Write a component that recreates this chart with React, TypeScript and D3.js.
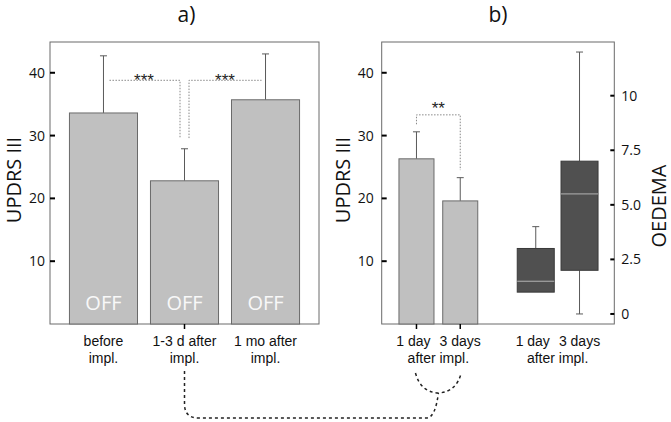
import React from 'react';
import * as d3 from 'd3';

// ---- data ----
const groupsA = ['before impl.', '1-3 d after impl.', '1 mo after impl.'];
const labelsA = [['before', 'impl.'], ['1-3 d after', 'impl.'], ['1 mo after', 'impl.']];
const meansA = [33.6, 22.8, 35.7];
const errTopA = [42.7, 27.9, 43.0];
const barTextA = ['OFF', 'OFF', 'OFF'];
const updrsTicks = [10, 20, 30, 40];
const sigA = { level: 38.8, drop: 29.6, text: '***' };

const groupsB = ['UPDRS', 'OEDEMA'];
const daysB = ['1 day', '3 days'];
const meansB = [26.3, 19.6];
const errTopB = [30.6, 23.3];
const sigB = { start: 31.8, level: 33.3, end: 24.5, text: '**' };

const oedemaMin = [1.0, 0.0];
const oedemaQ1 = [1.0, 2.0];
const oedemaMedian = [1.5, 5.5];
const oedemaQ3 = [3.0, 7.0];
const oedemaMax = [4.0, 12.0];
const oedemaTicks = [0, 2.5, 5, 7.5, 10];
const oedemaTickLabels = ['0', '2.5', '5.0', '7.5', '10'];

const W = 671;
const H = 422;
const TOP = 42;
const BOTTOM = 324;
const AX0 = 50, AX1 = 319;
const BX0 = 381.7, BX1 = 614.3;

const sans = '"Open Sans", "DejaVu Sans", sans-serif';
const arial = '"Liberation Sans", Arial, sans-serif';

export default function App() {
  const yL = d3.scaleLinear().domain([0, 44.9]).range([BOTTOM, TOP]);
  const yR = d3.scaleLinear().domain([-0.46, 12.46]).range([BOTTOM, TOP]);

  const xA = d3.scaleBand<string>().domain(groupsA).range([AX0, AX1]).paddingInner(0.16).paddingOuter(0.24);
  const xBo = d3.scaleBand<string>().domain(groupsB).range([BX0, BX1]).paddingInner(0.2).paddingOuter(0.075);
  const xBi = d3.scaleBand<string>().domain(daysB).range([0, xBo.bandwidth()]).paddingInner(0.2).paddingOuter(0.19);

  const cA = (i: number) => (xA(groupsA[i]) as number) + xA.bandwidth() / 2;
  const bx = (g: number, d: number) => (xBo(groupsB[g]) as number) + (xBi(daysB[d]) as number);
  const cB = (g: number, d: number) => bx(g, d) + xBi.bandwidth() / 2;
  const gCenter = (g: number) => (xBo(groupsB[g]) as number) + xBo.bandwidth() / 2;

  const barFill = '#c0c0c0';
  const barStroke = '#6a6a6a';
  const errCol = '#5a5a5a';
  const cap = 3.5;

  // connector path (annotation linking panels)
  const midA = cA(1);
  const b1 = cB(0, 0), b2 = cB(0, 1), bMid = gCenter(0);
  const yHoriz = 418;
  const conn1 = `M${midA},371 L${midA},404 Q${midA},${yHoriz} ${midA + 14},${yHoriz} L${bMid - 12},${yHoriz} Q${bMid - 3},${yHoriz} ${bMid},393`;
  const conn2 = `M${b1 - 1},373 Q${b1 + 4},392 ${bMid},393 Q${b2 - 4},392 ${b2 + 1},373`;

  return (
    <svg width={W} height={H} style={{ position: 'absolute', left: 0, top: 0, background: '#fff' }}>
      {/* Titles */}
      <text x={(AX0 + AX1) / 2 + 2} y={22} textAnchor="middle" fontFamily={sans} fontSize={21} fill="#111">a)</text>
      <text x={(BX0 + BX1) / 2} y={22} textAnchor="middle" fontFamily={sans} fontSize={21} fill="#111">b)</text>

      {/* ---- Panel A ---- */}
      <rect x={AX0} y={TOP} width={AX1 - AX0} height={BOTTOM - TOP} fill="none" stroke="#6a6a6a" strokeWidth={1} />
      {groupsA.map((g, i) => (
        <g key={g}>
          <line x1={cA(i)} x2={cA(i)} y1={yL(meansA[i])} y2={yL(errTopA[i])} stroke={errCol} strokeWidth={1} />
          <line x1={cA(i) - cap} x2={cA(i) + cap} y1={yL(errTopA[i])} y2={yL(errTopA[i])} stroke={errCol} strokeWidth={1} />
          <rect x={xA(g)} y={yL(meansA[i])} width={xA.bandwidth()} height={yL(0) - yL(meansA[i])} fill={barFill} stroke={barStroke} strokeWidth={1} />
          <text x={cA(i)} y={310} textAnchor="middle" fontFamily={sans} fontSize={20} fill="#f8f8f8">{barTextA[i]}</text>
          <text x={cA(i)} y={346} textAnchor="middle" fontFamily={arial} fontSize={14} fill="#111">{labelsA[i][0]}</text>
          <text x={cA(i)} y={363} textAnchor="middle" fontFamily={arial} fontSize={14} fill="#111">{labelsA[i][1]}</text>
        </g>
      ))}
      {updrsTicks.map((t) => (
        <g key={'la' + t}>
          <line x1={AX0} x2={AX0 + 5} y1={yL(t)} y2={yL(t)} stroke="#000" strokeWidth={2} />
          <text x={AX0 - 5} y={yL(t) + 5} textAnchor="end" fontFamily={sans} fontSize={14} fill="#111">{t}</text>
        </g>
      ))}
      <text transform={`translate(21,${(TOP + BOTTOM) / 2 - 3}) rotate(-90)`} textAnchor="middle" fontFamily={sans} fontSize={20} fill="#111">UPDRS III</text>
      {/* significance A */}
      <path
        d={`M${cA(0) + 6},${yL(sigA.level)} L${cA(1) - 4.5},${yL(sigA.level)} L${cA(1) - 4.5},${yL(sigA.drop)} M${cA(1) + 4.5},${yL(sigA.drop)} L${cA(1) + 4.5},${yL(sigA.level)} L${cA(2) - 4},${yL(sigA.level)}`}
        fill="none" stroke="#888" strokeWidth={1} strokeDasharray="1.5,1.5" />
      <text x={(cA(0) + cA(1)) / 2} y={yL(sigA.level) + 6} textAnchor="middle" fontFamily={arial} fontSize={17} fill="#222">{sigA.text}</text>
      <text x={(cA(1) + cA(2)) / 2} y={yL(sigA.level) + 6} textAnchor="middle" fontFamily={arial} fontSize={17} fill="#222">{sigA.text}</text>
      <line x1={midA} x2={midA} y1={BOTTOM} y2={BOTTOM + 5} stroke="#000" strokeWidth={1.5} />

      {/* ---- Panel B ---- */}
      <rect x={BX0} y={TOP} width={BX1 - BX0} height={BOTTOM - TOP} fill="none" stroke="#6a6a6a" strokeWidth={1} />
      {daysB.map((d, i) => (
        <g key={'bar' + d}>
          <line x1={cB(0, i)} x2={cB(0, i)} y1={yL(meansB[i])} y2={yL(errTopB[i])} stroke={errCol} strokeWidth={1} />
          <line x1={cB(0, i) - cap} x2={cB(0, i) + cap} y1={yL(errTopB[i])} y2={yL(errTopB[i])} stroke={errCol} strokeWidth={1} />
          <rect x={bx(0, i)} y={yL(meansB[i])} width={xBi.bandwidth()} height={yL(0) - yL(meansB[i])} fill={barFill} stroke={barStroke} strokeWidth={1} />
          <line x1={cB(0, i)} x2={cB(0, i)} y1={BOTTOM} y2={BOTTOM + 5} stroke="#000" strokeWidth={1.5} />
          <text x={cB(0, i) - 3 + i * 3} y={346} textAnchor="middle" fontFamily={arial} fontSize={14} fill="#111">{d}</text>
        </g>
      ))}
      <text x={gCenter(0)} y={363} textAnchor="middle" fontFamily={arial} fontSize={14} fill="#111">after impl.</text>
      {daysB.map((d, i) => {
        const c = cB(1, i);
        const x0 = bx(1, i) - 1;
        const w = xBi.bandwidth() + 2;
        return (
          <g key={'box' + d}>
            {oedemaMax[i] > oedemaQ3[i] && (
              <g>
                <line x1={c} x2={c} y1={yR(oedemaQ3[i])} y2={yR(oedemaMax[i])} stroke={errCol} strokeWidth={1} />
                <line x1={c - cap} x2={c + cap} y1={yR(oedemaMax[i])} y2={yR(oedemaMax[i])} stroke={errCol} strokeWidth={1} />
              </g>
            )}
            {oedemaMin[i] < oedemaQ1[i] && (
              <g>
                <line x1={c} x2={c} y1={yR(oedemaQ1[i])} y2={yR(oedemaMin[i])} stroke={errCol} strokeWidth={1} />
                <line x1={c - cap} x2={c + cap} y1={yR(oedemaMin[i])} y2={yR(oedemaMin[i])} stroke={errCol} strokeWidth={1} />
              </g>
            )}
            <rect x={x0} y={yR(oedemaQ3[i])} width={w} height={yR(oedemaQ1[i]) - yR(oedemaQ3[i])} fill="#505050" stroke="#3a3a3a" strokeWidth={1} />
            <line x1={x0} x2={x0 + w} y1={yR(oedemaMedian[i])} y2={yR(oedemaMedian[i])} stroke="#b4b4b4" strokeWidth={1} />
            <text x={c - 3 + i * 3} y={346} textAnchor="middle" fontFamily={arial} fontSize={14} fill="#111">{d}</text>
          </g>
        );
      })}
      <text x={gCenter(1)} y={363} textAnchor="middle" fontFamily={arial} fontSize={14} fill="#111">after impl.</text>
      {updrsTicks.map((t) => (
        <g key={'lb' + t}>
          <line x1={BX0} x2={BX0 + 5} y1={yL(t)} y2={yL(t)} stroke="#000" strokeWidth={2} />
          <text x={BX0 - 8} y={yL(t) + 5} textAnchor="end" fontFamily={sans} fontSize={14} fill="#111">{t}</text>
        </g>
      ))}
      {oedemaTicks.map((t, i) => (
        <g key={'rb' + t}>
          <line x1={BX1 - 4} x2={BX1} y1={yR(t)} y2={yR(t)} stroke="#000" strokeWidth={2} />
          <text x={BX1 + 7} y={yR(t) + 5} textAnchor="start" fontFamily={sans} fontSize={14} fill="#111">{oedemaTickLabels[i]}</text>
        </g>
      ))}
      <text transform={`translate(350,${(TOP + BOTTOM) / 2 - 3}) rotate(-90)`} textAnchor="middle" fontFamily={sans} fontSize={20} fill="#111">UPDRS III</text>
      <text transform={`translate(666,206) rotate(-90)`} textAnchor="middle" fontFamily={sans} fontSize={20} fill="#111">OEDEMA</text>
      {/* significance B */}
      <path
        d={`M${cB(0, 0)},${yL(sigB.start)} L${cB(0, 0)},${yL(sigB.level)} L${cB(0, 1)},${yL(sigB.level)} L${cB(0, 1)},${yL(sigB.end)}`}
        fill="none" stroke="#888" strokeWidth={1} strokeDasharray="1.5,1.5" />
      <text x={gCenter(0)} y={yL(sigB.level) - 1} textAnchor="middle" fontFamily={arial} fontSize={17} fill="#222">{sigB.text}</text>

      {/* connector */}
      <path d={conn1} fill="none" stroke="#222" strokeWidth={1.5} strokeDasharray="3,3" />
      <path d={conn2} fill="none" stroke="#222" strokeWidth={1.5} strokeDasharray="3,3" />
    </svg>
  );
}
